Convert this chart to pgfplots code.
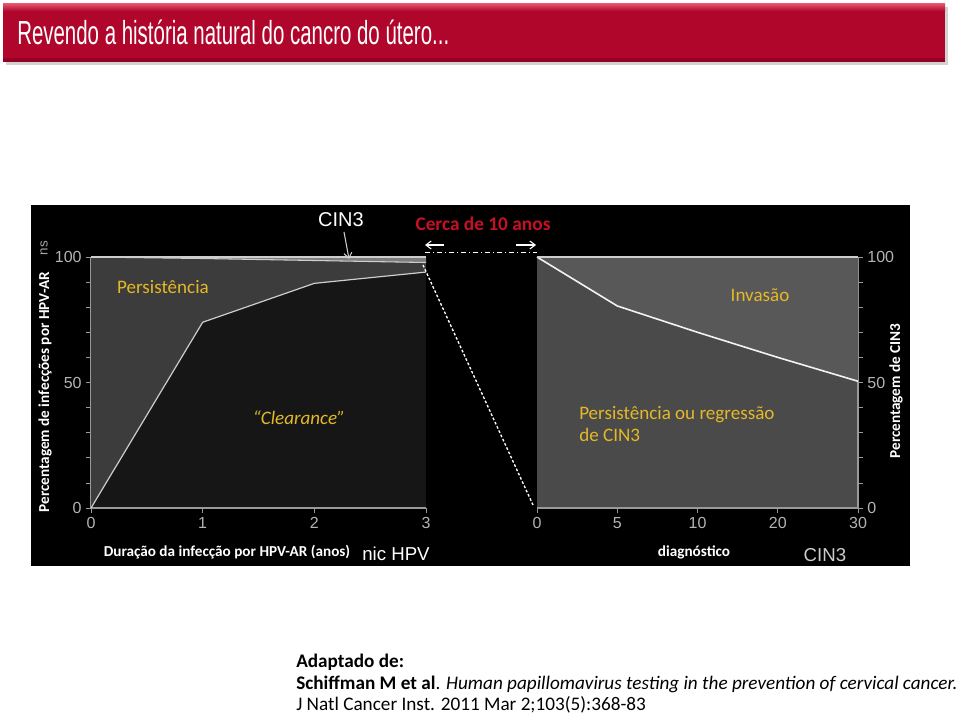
\documentclass[border=0pt]{standalone}
\usepackage{pgfplots}
\pgfplotsset{compat=1.18}
\usepackage{fontspec}
\setmainfont{Carlito}
\newfontfamily\arial{Liberation Sans}
\usetikzlibrary{arrows.meta}
\definecolor{titlered}{RGB}{176,6,44}
\definecolor{titletop}{RGB}{225,80,105}
\definecolor{titlebot}{RGB}{150,0,35}
\definecolor{ylw}{RGB}{228,184,40}
\definecolor{tickgray}{RGB}{180,180,180}
\definecolor{cerca}{RGB}{200,16,36}
\definecolor{linegray}{RGB}{205,205,205}
\definecolor{clearbg}{RGB}{22,22,22}
\definecolor{persist}{RGB}{60,60,60}
\definecolor{band}{RGB}{125,125,125}
\definecolor{rightbg}{RGB}{74,74,74}
\definecolor{invbg}{RGB}{88,88,88}
\begin{document}
\begin{tikzpicture}
\begin{scope}[x=0.75pt,y=-0.75pt]
\useasboundingbox (0,0) rectangle (960,716);
\fill[white] (0,0) rectangle (960,716);
% title bar
\fill[gray!35] (6,7) rectangle (948,65);
\fill[titlered] (3,4) rectangle (945,62);
\shade[top color=titletop, bottom color=titlered] (3,4) rectangle (945,11);
\fill[titlebot] (3,58) rectangle (945,62);
\node[anchor=base west, inner sep=0pt, text=white] at (17,45)
  {\resizebox{324pt}{\height}{\arial\fontsize{25}{30}\selectfont Revendo a história natural do cancro do útero...}};
% black panel
\fill[black] (31,205) rectangle (910,566);
\end{scope}

% left axis
\begin{axis}[
  at={(68.25pt,-381pt)}, anchor=south west,
  scale only axis, width=251.25pt, height=188.25pt,
  xmin=0, xmax=3, ymin=0, ymax=100,
  axis lines*=left,
  axis line style={draw=gray!80, line width=1pt},
  xtick={0,1,2,3}, ytick={0,50,100},
  minor ytick={10,20,30,40,60,70,80,90},
  tick align=outside,
  major tick length=3.5pt, minor tick length=3.5pt,
  tick style={draw=gray!80, line width=0.6pt},
  ticklabel style={font=\arial\fontsize{12}{14}\selectfont, text=tickgray},
  /pgf/number format/assume math mode=true,
  axis background/.style={fill=clearbg},
  clip=false,
]
\addplot[draw=none, fill=persist] coordinates {(0,0)(1,74)(2,89.5)(3,94)(3,97.8)(2,98.6)(1,99.4)(0,100)};
\addplot[draw=none, fill=band] coordinates {(0,100)(1,99.4)(2,98.6)(3,97.8)(3,100)};
\addplot[color=linegray, line width=0.9pt] coordinates {(0,0)(1,74)(2,89.5)(3,94)};
\addplot[color=linegray, line width=0.8pt] coordinates {(0,100)(1,99.4)(2,98.6)(3,97.8)};
\addplot[color=linegray, line width=1.2pt] coordinates {(0,100)(3,100)};
\end{axis}

% right axis
\begin{axis}[
  at={(402.75pt,-381pt)}, anchor=south west,
  scale only axis, width=240.75pt, height=188.25pt,
  xmin=0, xmax=4, ymin=0, ymax=100,
  axis x line*=bottom, axis y line*=right,
  axis line style={draw=gray!80, line width=1pt},
  xtick={0,1,2,3,4}, xticklabels={0,5,10,20,30},
  ytick={0,50,100},
  minor ytick={10,20,30,40,60,70,80,90},
  tick align=outside,
  major tick length=3.5pt, minor tick length=3.5pt,
  tick style={draw=gray!80, line width=0.6pt},
  ticklabel style={font=\arial\fontsize{12}{14}\selectfont, text=tickgray},
  /pgf/number format/assume math mode=true,
  axis background/.style={fill=rightbg},
  clip=false,
]
\addplot[draw=none, fill=invbg] coordinates {(0,100)(1,80.5)(2,70)(3,60)(4,50.5)(4,100)};
\addplot[color=white!90!gray, line width=1.2pt] coordinates {(0,100)(1,80.5)(2,70)(3,60)(4,50.5)};
\addplot[color=linegray, line width=1pt] coordinates {(0,100)(4,100)};
\end{axis}

\begin{scope}[x=0.75pt,y=-0.75pt]
% connectors
\draw[white, line width=1pt, dash pattern=on 2pt off 1.5pt] (423,265) -- (533,505);
\draw[white, line width=0.7pt, dash pattern=on 4pt off 2pt on 1pt off 2pt] (425,252) -- (537,252);
\draw[white, line width=0.8pt, -{Straight Barb[length=4pt,width=6pt]}] (444,245) -- (425,245);
\draw[white, line width=0.8pt, -{Straight Barb[length=4pt,width=6pt]}] (516,245) -- (536,245);
\draw[linegray, line width=0.8pt, -{Straight Barb[length=4pt,width=6pt]}] (344,232) -- (349,259);
\node[text=white, font=\arial\fontsize{15}{17}\selectfont] at (341,220) {CIN3};
\node[text=cerca, font=\bfseries\fontsize{14.5}{17}\selectfont] at (483,224) {Cerca de 10 anos};
% axis labels
\node[rotate=90, text=white, font=\bfseries\fontsize{11.4}{13}\selectfont] at (45,392) {Percentagem de infecções por HPV-AR};
\node[rotate=90, text=gray!70, font=\arial\fontsize{10}{12}\selectfont] at (44,248) {ns};
\node[rotate=90, text=white, font=\bfseries\fontsize{11.4}{13}\selectfont] at (896,391) {Percentagem de CIN3};
\node[text=white, font=\bfseries\fontsize{11.4}{13}\selectfont] at (227,552) {Duração da infecção por HPV-AR (anos)};
\node[text=white, font=\arial\fontsize{14}{16}\selectfont] at (396,554) {nic HPV};
\node[text=white, font=\bfseries\fontsize{11.4}{13}\selectfont] at (694,552) {diagnóstico};
\node[text=linegray, font=\arial\fontsize{14}{16}\selectfont] at (825,555) {CIN3};
% annotations
\node[text=ylw, font=\fontsize{14.3}{17}\selectfont] at (163,287) {Persistência};
\node[text=ylw, font=\itshape\fontsize{14.3}{17}\selectfont] at (299,418) {“Clearance”};
\node[text=ylw, font=\fontsize{14.3}{17}\selectfont] at (760,295) {Invasão};
\node[text=ylw, font=\fontsize{14.3}{17}\selectfont, anchor=west, align=left, inner sep=0pt] at (579,424) {Persistência ou regressão\\[0pt]de CIN3};
% reference
\node[anchor=base west, inner sep=0pt, font=\bfseries\fontsize{14.4}{17}\selectfont] at (296,667) {Adaptado de:};
\node[anchor=base west, inner sep=0pt, font=\fontsize{14.4}{17}\selectfont] at (296,689) {\textbf{Schiffman M et al}. \textit{Human papillomavirus testing in the prevention of cervical cancer.}};
\node[anchor=base west, inner sep=0pt, font=\fontsize{14.4}{17}\selectfont] at (296,710) {J Natl Cancer Inst. 2011 Mar 2;103(5):368-83};
\end{scope}
\end{tikzpicture}
\end{document}
